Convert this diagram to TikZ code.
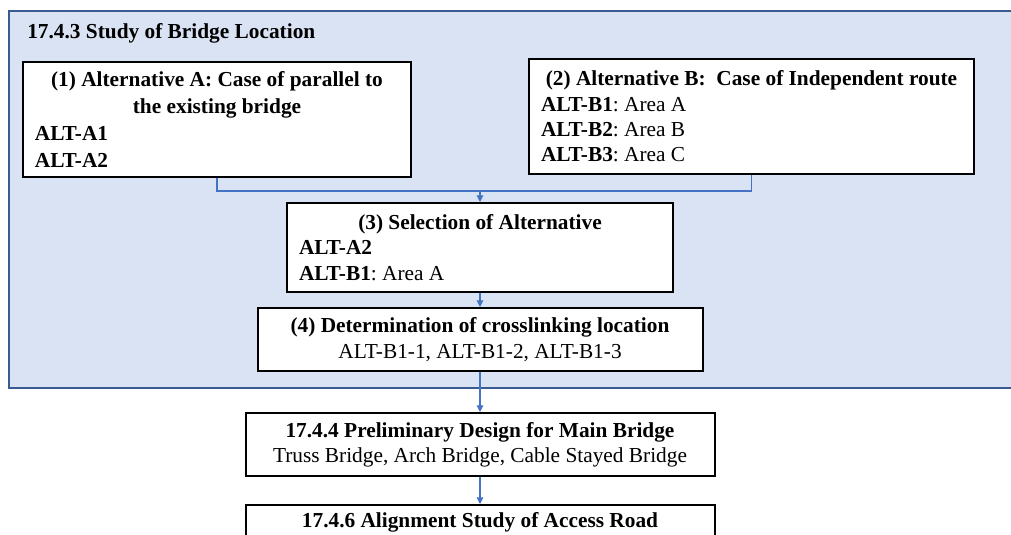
\documentclass[tikz,border=0pt]{standalone}
\usepackage{fontspec}
\setmainfont{Liberation Serif}
\usetikzlibrary{calc, arrows.meta}

\definecolor{panelfill}{HTML}{DAE3F3}
\definecolor{panelline}{HTML}{3A5A92}
\definecolor{linkblue}{HTML}{4472C4}

\tikzset{
	card/.style={draw=black, line width=1.5pt, fill=white, inner xsep=9pt, inner ysep=0pt, align=left, font=\fontsize{16}{19}\selectfont\frenchspacing,
		execute at begin node={\spaceskip=.25em\relax}},
	link/.style={draw=linkblue, line width=0.8pt},
	flow/.style={link, -{Triangle[length=5pt,width=5pt]}},
}

\newcommand{\midline}[1]{\makebox[\hsize]{#1}}

\begin{document}
\begin{tikzpicture}[x=0.75pt, y=-0.75pt]
			\def\flowx{480};
			\def\joiny{191};

			\clip (0,0) rectangle (1011,535);

			\begin{scope}
				\filldraw [fill=panelfill, draw=panelline, line width=1.5pt] (8.5,11) rectangle (1040,388);
				\node [anchor=west, inner sep=0pt, font=\fontsize{16}{19}\selectfont\bfseries] (panel title) at (27,33) {17.4.3 Study of Bridge Location};
			\end{scope}

			\node [card, minimum width=291pt, minimum height=86.25pt, text width=273pt, font=\fontsize{16}{20.25}\selectfont\frenchspacing] (alt a) at (217,119.5)
				{\midline{\textbf{(1) Alternative A: Case of parallel to}}\\ \midline{\textbf{the existing bridge}}\\ \textbf{ALT-A1}\\ \textbf{ALT-A2}};
			\node [card, minimum width=333.75pt, minimum height=85.5pt, text width=315.75pt] (alt b) at (751.5,116.5)
				{\midline{\textbf{(2) Alternative B:\ \ Case of Independent route}}\\ \textbf{ALT-B1}: Area A\\ \textbf{ALT-B2}: Area B\\ \textbf{ALT-B3}: Area C};
			\node [card, minimum width=289.5pt, minimum height=66.75pt, text width=271.5pt] (selection) at (\flowx,247.5)
				{\midline{\textbf{(3) Selection of Alternative}}\\ \textbf{ALT-A2}\\ \textbf{ALT-B1}: Area A};
			\node [card, align=center, minimum width=333.75pt, minimum height=47.25pt, text width=315.75pt] (crosslink) at (\flowx,339.5)
				{\textbf{(4) Determination of crosslinking location}\\ ALT-B1-1, ALT-B1-2, ALT-B1-3};
			\node [card, align=center, minimum width=351.75pt, minimum height=47.25pt, text width=333.75pt] (main bridge) at (\flowx,444.5)
				{\textbf{17.4.4 Preliminary Design for Main Bridge}\\ Truss Bridge, Arch Bridge, Cable Stayed Bridge};
			\node [card, align=center, minimum width=351.75pt, minimum height=25.5pt, text width=333.75pt] (access road) at (\flowx,522)
				{\textbf{17.4.6 Alignment Study of Access Road}};

			\coordinate (join) at (\flowx,\joiny);

			\begin{scope}
				\draw [link] (alt a.south) |- (join) -| (alt b.south);
				\draw [flow] (join) -- (selection.north);
				\draw [flow] (selection.south) -- (crosslink.north);
				\draw [flow] (crosslink.south) -- (main bridge.north);
				\draw [flow] (main bridge.south) -- (access road.north);
			\end{scope}
		\end{tikzpicture}
\end{document}
